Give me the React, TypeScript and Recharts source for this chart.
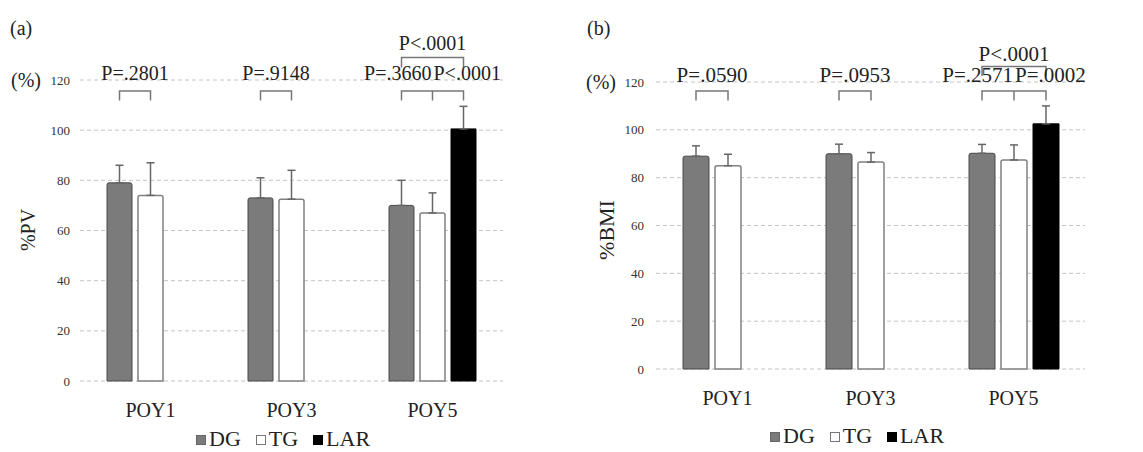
import React from 'react';
import { BarChart, Bar, XAxis, YAxis, CartesianGrid, ErrorBar, LabelList } from 'recharts';

const categories = ['POY1', 'POY3', 'POY5'];
const yTicks = [0, 20, 40, 60, 80, 100, 120];

// (a) %PV
const pvDG = [79, 73, 70];
const pvTG = [74, 72.5, 67];
const pvLAR = [null, null, 100.5];
const pvDGErr = [7, 8, 10];
const pvTGErr = [13, 11.5, 8];
const pvLARErr = [null, null, 9];
const pvPairP = ['P=.2801', 'P=.9148'];
const pvPOY5P = ['P=.3660', 'P<.0001', 'P<.0001']; // DG-TG, TG-LAR, DG-LAR

// (b) %BMI
const bmiDG = [89, 90, 90.2];
const bmiTG = [85, 86.5, 87.4];
const bmiLAR = [null, null, 102.5];
const bmiDGErr = [4.3, 4, 3.7];
const bmiTGErr = [4.8, 4, 6.3];
const bmiLARErr = [null, null, 7.5];
const bmiPairP = ['P=.0590', 'P=.0953'];
const bmiPOY5P = ['P=.2571', 'P=.0002', 'P<.0001'];

const FONT = 'Liberation Serif, DejaVu Serif, serif';

const buildRows = (dg: number[], tg: number[], lar: (number | null)[], dgE: number[], tgE: number[], larE: (number | null)[]) =>
  categories.map((name, i) => ({
    name,
    dg: dg[i],
    tg: tg[i],
    lar: lar[i],
    dgErr: [0, dgE[i]],
    tgErr: [0, tgE[i]],
    larErr: larE[i] == null ? undefined : [0, larE[i] as number],
  }));

type Cfg = {
  gap: number;
  pFont: number;
  pairTop: number;
  pairLeg: number;
  pairText: number;
  upTop: number;
  upLeg: number;
  upText: number;
};

// brackets + p-values, positioned off the DG bar geometry
const makeAnnot = (pair: string[], poy5: string[], cfg: Cfg) => (props: any) => {
  const { x, y, width, height, value, index } = props;
  if (value == null || !height) return null;
  const bottom = y + height;
  const k = height / value;
  const py = (v: number) => bottom - v * k;
  const step = width + cfg.gap;
  const c0 = x + width / 2;
  const c1 = c0 + step;
  const c2 = c1 + step;
  const line = { stroke: '#777', strokeWidth: 1.5, fill: 'none' };
  const txt = { fontFamily: FONT, fontSize: cfg.pFont, fill: '#222' };
  if (index < 2) {
    return (
      <g>
        <path d={`M${c0},${py(cfg.pairLeg)}V${py(cfg.pairTop)}H${c1}V${py(cfg.pairLeg)}`} {...line} />
        <text x={(c0 + c1) / 2} y={py(cfg.pairText)} textAnchor="middle" {...txt}>{pair[index]}</text>
      </g>
    );
  }
  return (
    <g>
      <path d={`M${c0},${py(cfg.pairLeg)}V${py(cfg.pairTop)}H${c2}V${py(cfg.pairLeg)}M${c1},${py(cfg.pairTop)}V${py(cfg.pairLeg)}`} {...line} />
      <path d={`M${c0},${py(cfg.upLeg)}V${py(cfg.upTop)}H${c2}V${py(cfg.upLeg)}`} {...line} />
      <text x={c1 - 1} y={py(cfg.pairText)} textAnchor="end" {...txt}>{poy5[0]}</text>
      <text x={c1 + 1} y={py(cfg.pairText)} textAnchor="start" {...txt}>{poy5[1]}</text>
      <text x={(c0 + c2) / 2} y={py(cfg.upText)} textAnchor="middle" {...txt}>{poy5[2]}</text>
    </g>
  );
};

type PanelProps = {
  left: number;
  width: number;
  tag: string;
  yLabel: string;
  yLabelSize: number;
  yLabelX: number;
  rows: any[];
  margin: { top: number; right: number; left: number; bottom: number };
  yWidth: number;
  xHeight: number;
  barSize: number;
  cfg: Cfg;
  pair: string[];
  poy5: string[];
  yTickMargin: number;
  xFont: number;
  legendTop: number;
  legendLeft: number;
};

const Square = ({ fill, stroke }: { fill: string; stroke: string }) => (
  <span style={{ display: 'inline-block', width: 8, height: 8, background: fill, border: `1px solid ${stroke}`, marginRight: 3, verticalAlign: 'middle', position: 'relative', top: -1 }} />
);

const Panel = (p: PanelProps) => {
  const plotTop = p.margin.top;
  return (
    <div style={{ position: 'absolute', left: p.left, top: 0, width: p.width, height: 452 }}>
      <BarChart
        width={p.width}
        height={452}
        data={p.rows}
        margin={p.margin}
        barGap={p.cfg.gap}
        barSize={p.barSize}
      >
        <CartesianGrid horizontal vertical={false} stroke="#c4c4c4" strokeDasharray="4 3" />
        <XAxis
          dataKey="name"
          axisLine={false}
          tickLine={false}
          height={p.xHeight}
          tickMargin={16}
          tick={{ fontSize: p.xFont, fill: '#222', fontFamily: FONT }}
        />
        <YAxis
          domain={[0, 120]}
          ticks={yTicks}
          width={p.yWidth}
          axisLine={false}
          tickLine={false}
          tickMargin={p.yTickMargin}
          tick={{ fontSize: 13, fill: '#333', fontFamily: FONT }}
        />
        <Bar dataKey="dg" fill="#7b7b7b" stroke="#4a4a4a" strokeWidth={1} radius={[2, 2, 0, 0]} isAnimationActive={false}>
          <ErrorBar dataKey="dgErr" direction="y" width={4} stroke="#666" strokeWidth={1.5} />
          <LabelList dataKey="dg" content={makeAnnot(p.pair, p.poy5, p.cfg)} />
        </Bar>
        <Bar dataKey="tg" fill="#ffffff" stroke="#808080" strokeWidth={1.5} radius={[2, 2, 0, 0]} isAnimationActive={false}>
          <ErrorBar dataKey="tgErr" direction="y" width={4} stroke="#666" strokeWidth={1.5} />
        </Bar>
        <Bar dataKey="lar" fill="#000000" stroke="#000000" strokeWidth={1} isAnimationActive={false}>
          <ErrorBar dataKey="larErr" direction="y" width={4} stroke="#666" strokeWidth={1.5} />
        </Bar>
      </BarChart>
      <div style={{ position: 'absolute', left: p.left === 0 ? 10 : 17, top: 16, fontFamily: FONT, fontSize: 20, lineHeight: '24px', color: '#222' }}>{p.tag}</div>
      <div style={{ position: 'absolute', left: p.left === 0 ? 11 : 16, top: plotTop - 12, fontFamily: FONT, fontSize: 20, lineHeight: '24px', color: '#222' }}>(%)</div>
      <div
        style={{
          position: 'absolute',
          left: p.yLabelX,
          top: 230,
          transform: 'translate(-50%, -50%) rotate(-90deg)',
          fontFamily: FONT,
          fontSize: p.yLabelSize,
          color: '#222',
          whiteSpace: 'nowrap',
        }}
      >
        {p.yLabel}
      </div>
      <div style={{ position: 'absolute', left: p.legendLeft, top: p.legendTop, fontFamily: FONT, fontSize: 22, color: '#222', whiteSpace: 'nowrap', lineHeight: '22px' }}>
        <Square fill="#7b7b7b" stroke="#666" />DG
        <span style={{ marginLeft: 15 }} />
        <Square fill="#fff" stroke="#777" />TG
        <span style={{ marginLeft: 15 }} />
        <Square fill="#000" stroke="#000" />LAR
      </div>
    </div>
  );
};

const pvRows = buildRows(pvDG, pvTG, pvLAR, pvDGErr, pvTGErr, pvLARErr);
const bmiRows = buildRows(bmiDG, bmiTG, bmiLAR, bmiDGErr, bmiTGErr, bmiLARErr);

export default function App() {
  return (
    <div style={{ position: 'absolute', left: 0, top: 0, width: 1143, height: 452, background: '#fff', overflow: 'hidden' }}>
      <Panel
        left={0}
        width={570}
        tag="(a)"
        yLabel="%PV"
        yLabelSize={20}
        yLabelX={28}
        rows={pvRows}
        margin={{ top: 80, right: 67, left: 0, bottom: 0 }}
        yWidth={80}
        xHeight={71}
        barSize={25}
        cfg={{ gap: 6, pFont: 20, pairTop: 115.6, pairLeg: 111.8, pairText: 120, upTop: 129, upLeg: 125, upText: 132 }}
        pair={pvPairP}
        poy5={pvPOY5P}
        yTickMargin={4}
        xFont={20}
        legendTop={428}
        legendLeft={196}
      />
      <Panel
        left={570}
        width={573}
        tag="(b)"
        yLabel="%BMI"
        yLabelSize={22}
        yLabelX={37}
        rows={bmiRows}
        margin={{ top: 82, right: 58, left: 0, bottom: 0 }}
        yWidth={86}
        xHeight={83}
        barSize={26}
        cfg={{ gap: 6, pFont: 21, pairTop: 116.2, pairLeg: 112.3, pairText: 120, upTop: 126.5, upLeg: 122.5, upText: 128.6 }}
        pair={bmiPairP}
        poy5={bmiPOY5P}
        yTickMargin={6}
        xFont={20}
        legendTop={425}
        legendLeft={200}
      />
    </div>
  );
}
